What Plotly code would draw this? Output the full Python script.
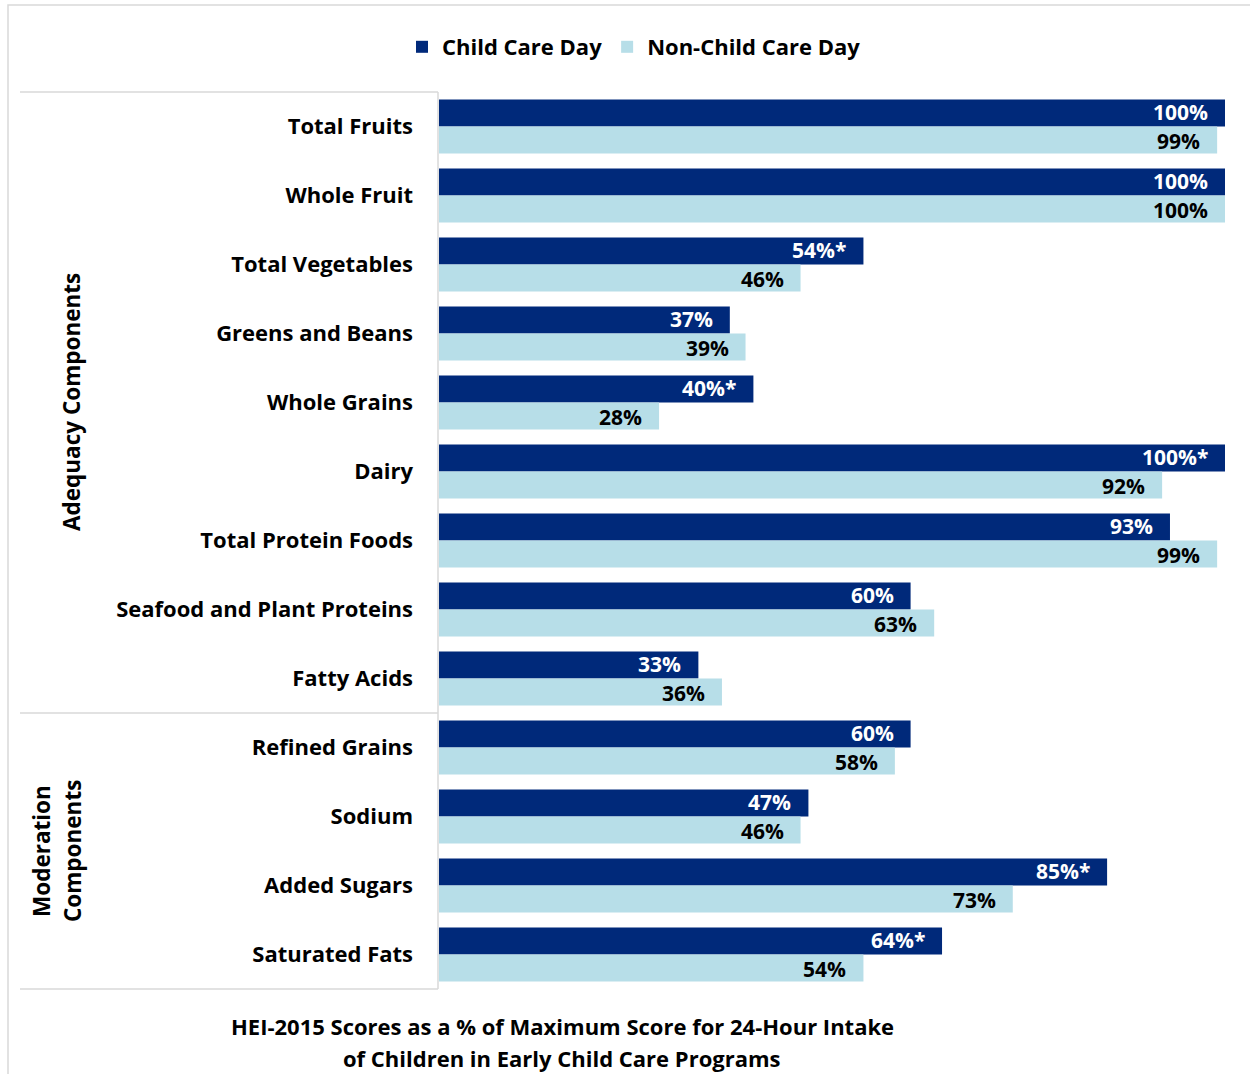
import plotly.graph_objects as go

# HEI-2015 component scores (% of maximum score)
components = [
    "Total Fruits", "Whole Fruit", "Total Vegetables", "Greens and Beans",
    "Whole Grains", "Dairy", "Total Protein Foods", "Seafood and Plant Proteins",
    "Fatty Acids", "Refined Grains", "Sodium", "Added Sugars", "Saturated Fats",
]
child_care_day = [100, 100, 54, 37, 40, 100, 93, 60, 33, 60, 47, 85, 64]
non_child_care_day = [99, 100, 46, 39, 28, 92, 99, 63, 36, 58, 46, 73, 54]
# significant difference markers for the child care day values
child_care_sig = ["", "", "*", "", "*", "*", "", "", "", "", "", "*", "*"]

DARK = "#00297A"
LIGHT = "#B7DEE8"
GRID = "#D9D9D9"
FONT = "Open Sans"

fig = go.Figure()
fig.add_trace(go.Bar(
    y=components, x=child_care_day, orientation="h", name="Child Care Day",
    marker=dict(color=DARK, line=dict(width=0)),
))
fig.add_trace(go.Bar(
    y=components, x=non_child_care_day, orientation="h", name="Non-Child Care Day",
    marker=dict(color=LIGHT, line=dict(width=0)),
))

annotations = []
# value labels at the inner end of each bar
for cat, v, s in zip(components, child_care_day, child_care_sig):
    annotations.append(dict(
        x=v, y=cat, xref="x", yref="y", text=f"<b>{v}%{s}</b>",
        showarrow=False, xanchor="right", yanchor="middle",
        xshift=-16, yshift=14.5, borderpad=0,
        font=dict(family=FONT, size=21, color="white"),
    ))
for cat, v in zip(components, non_child_care_day):
    annotations.append(dict(
        x=v, y=cat, xref="x", yref="y", text=f"<b>{v}%</b>",
        showarrow=False, xanchor="right", yanchor="middle",
        xshift=-16, yshift=-14.5, borderpad=0,
        font=dict(family=FONT, size=21, color="black"),
    ))

# plot-area geometry in pixels, used to place the surrounding decorations
PLOT_L, PLOT_W = 439, 786
PLOT_B, PLOT_H = 989, 897


def px_x(p):
    return (p - PLOT_L) / PLOT_W


def px_y(p):
    return (PLOT_B - p) / PLOT_H


# group labels on the left
annotations.append(dict(
    x=px_x(72), y=px_y(402), xref="paper", yref="paper",
    text="<b>Adequacy Components</b>", textangle=-90, showarrow=False,
    xanchor="center", yanchor="middle",
    font=dict(family=FONT, size=22.5, color="black"),
))
for xp, line in [(41, "Moderation"), (72, "Components")]:
    annotations.append(dict(
        x=px_x(xp), y=px_y(851), xref="paper", yref="paper",
        text=f"<b>{line}</b>", textangle=-90, showarrow=False,
        xanchor="center", yanchor="middle",
        font=dict(family=FONT, size=22.5, color="black"),
    ))

# caption below the chart
for yp, line in [(1026, "HEI-2015 Scores as a % of Maximum Score for 24-Hour Intake"),
                 (1058, "of Children in Early Child Care Programs")]:
    annotations.append(dict(
        x=px_x(562), y=px_y(yp), xref="paper", yref="paper",
        text=f"<b>{line}</b>", showarrow=False,
        xanchor="center", yanchor="middle",
        font=dict(family=FONT, size=22, color="black"),
    ))

shapes = [
    # outer frame
    dict(type="rect", xref="paper", yref="paper",
         x0=px_x(8), x1=px_x(1262), y0=px_y(5), y1=px_y(1090),
         line=dict(color=GRID, width=1.5)),
    # category table lines
    dict(type="line", xref="paper", yref="paper",
         x0=px_x(20), x1=px_x(438), y0=px_y(92), y1=px_y(92),
         line=dict(color=GRID, width=1.5)),
    dict(type="line", xref="paper", yref="paper",
         x0=px_x(20), x1=px_x(438), y0=px_y(713), y1=px_y(713),
         line=dict(color=GRID, width=1.5)),
    dict(type="line", xref="paper", yref="paper",
         x0=px_x(20), x1=px_x(438), y0=px_y(989), y1=px_y(989),
         line=dict(color=GRID, width=1.5)),
    dict(type="line", xref="paper", yref="paper",
         x0=px_x(438), x1=px_x(438), y0=px_y(92), y1=px_y(989),
         line=dict(color=GRID, width=1.5)),
]

fig.update_layout(
    width=1250, height=1074,
    margin=dict(l=PLOT_L, r=1250 - PLOT_L - PLOT_W, t=92, b=1074 - PLOT_B),
    paper_bgcolor="white", plot_bgcolor="white",
    barmode="group", bargap=0.217, bargroupgap=0,
    font=dict(family=FONT, color="black"),
    showlegend=True,
    legend=dict(
        orientation="h", x=px_x(634), xanchor="center",
        y=px_y(47), yanchor="middle",
        font=dict(family=FONT, size=22, color="black", weight="bold"),
        itemwidth=30, tracegroupgap=0, bgcolor="rgba(0,0,0,0)",
    ),
    xaxis=dict(range=[0, 100], visible=False, fixedrange=True),
    yaxis=dict(
        autorange="reversed", showgrid=False, zeroline=False, showline=False,
        ticks="", ticklabelstandoff=25,
        tickfont=dict(family=FONT, size=22, color="black", weight="bold"),
    ),
    annotations=annotations,
    shapes=shapes,
)

fig.write_html("out.html")
